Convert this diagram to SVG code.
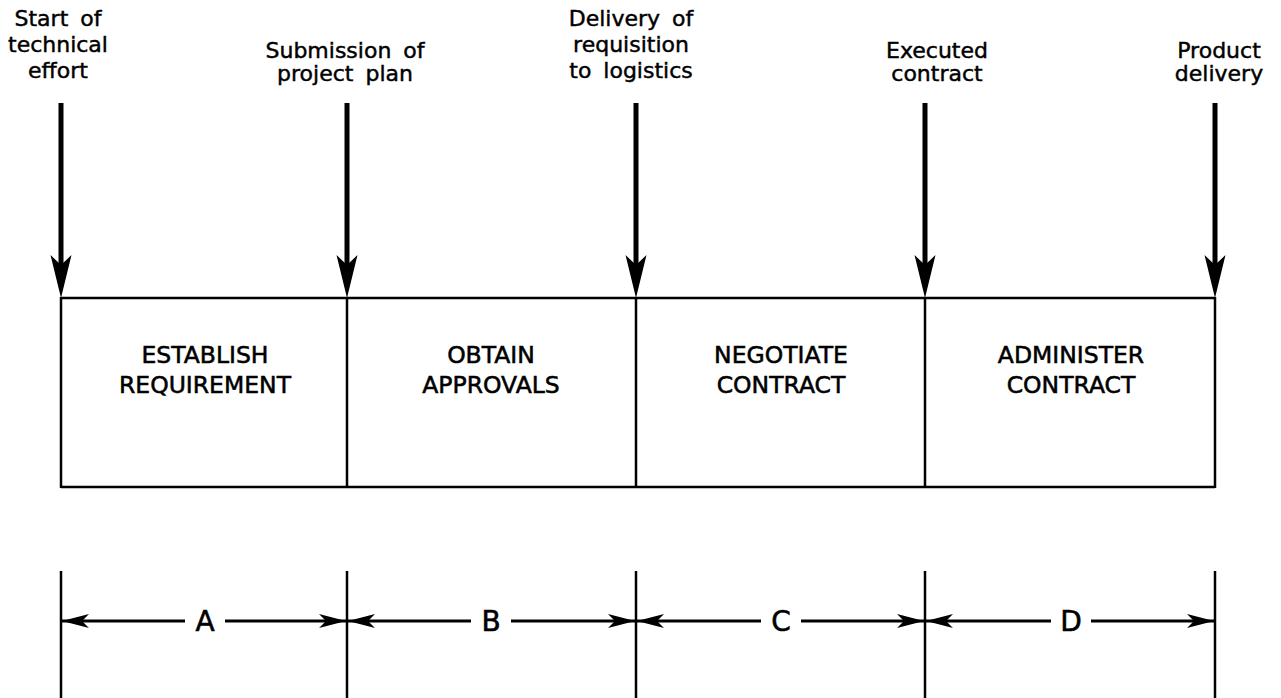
<svg xmlns="http://www.w3.org/2000/svg" width="1281" height="698" viewBox="0 0 1281 698">
<defs>
<style>
.t{font-family:"DejaVu Sans","Liberation Sans",sans-serif;font-size:22px;fill:#000;stroke:#000;stroke-width:0.45;text-anchor:middle;word-spacing:5px}
.b{font-family:"DejaVu Sans","Liberation Sans",sans-serif;font-size:23.5px;fill:#000;stroke:#000;stroke-width:0.55;text-anchor:middle}
.d{font-family:"DejaVu Sans","Liberation Sans",sans-serif;font-size:28px;fill:#000;stroke:#000;stroke-width:0.6;text-anchor:middle}
.ln{stroke:#000;stroke-width:2.5;fill:none}
.sh{stroke:#000;stroke-width:5;fill:none}
.dim{stroke:#000;stroke-width:3;fill:none}
</style>
<path id="bighead" d="M0,0 L-10.5,-43 L0,-33 L10.5,-43 Z" fill="#000"/>
<marker id="sm" markerUnits="userSpaceOnUse" markerWidth="30" markerHeight="18" refX="27" refY="9" orient="auto">
<path d="M0,2 L27,9 L0,16 L7,9 Z" fill="#000"/>
</marker>
</defs>
<rect width="1281" height="698" fill="#fff"/>

<g id="connectors">
<line class="sh" x1="61" y1="103" x2="61" y2="275"/>
<use href="#bighead" x="61" y="298"/>
<line class="sh" x1="347" y1="103" x2="347" y2="275"/>
<use href="#bighead" x="347" y="298"/>
<line class="sh" x1="636" y1="103" x2="636" y2="275"/>
<use href="#bighead" x="636" y="298"/>
<line class="sh" x1="925" y1="103" x2="925" y2="275"/>
<use href="#bighead" x="925" y="298"/>
<line class="sh" x1="1215" y1="103" x2="1215" y2="275"/>
<use href="#bighead" x="1215" y="298"/>

<line class="dim" x1="185" y1="621" x2="62" y2="621" marker-end="url(#sm)"/>
<line class="dim" x1="225" y1="621" x2="346" y2="621" marker-end="url(#sm)"/>
<line class="dim" x1="471" y1="621" x2="348" y2="621" marker-end="url(#sm)"/>
<line class="dim" x1="511" y1="621" x2="635" y2="621" marker-end="url(#sm)"/>
<line class="dim" x1="761" y1="621" x2="637" y2="621" marker-end="url(#sm)"/>
<line class="dim" x1="801" y1="621" x2="924" y2="621" marker-end="url(#sm)"/>
<line class="dim" x1="1051" y1="621" x2="926" y2="621" marker-end="url(#sm)"/>
<line class="dim" x1="1091" y1="621" x2="1214" y2="621" marker-end="url(#sm)"/>
</g>

<g id="frame">
<line class="ln" x1="61" y1="298" x2="1215" y2="298"/>
<line class="ln" x1="61" y1="487" x2="1215" y2="487"/>
<line class="ln" x1="61" y1="297" x2="61" y2="488"/>
<line class="ln" x1="347" y1="297" x2="347" y2="488"/>
<line class="ln" x1="636" y1="297" x2="636" y2="488"/>
<line class="ln" x1="925" y1="297" x2="925" y2="488"/>
<line class="ln" x1="1215" y1="297" x2="1215" y2="488"/>
<line class="ln" x1="61" y1="571" x2="61" y2="698"/>
<line class="ln" x1="347" y1="571" x2="347" y2="698"/>
<line class="ln" x1="636" y1="571" x2="636" y2="698"/>
<line class="ln" x1="925" y1="571" x2="925" y2="698"/>
<line class="ln" x1="1215" y1="571" x2="1215" y2="698"/>
</g>

<g id="m1"><text class="t" x="58" y="26">Start of</text><text class="t" x="58" y="52">technical</text><text class="t" x="58" y="78">effort</text></g>
<g id="m2"><text class="t" x="345" y="58">Submission of</text><text class="t" x="345" y="81">project plan</text></g>
<g id="m3"><text class="t" x="631" y="26">Delivery of</text><text class="t" x="631" y="52">requisition</text><text class="t" x="631" y="78">to logistics</text></g>
<g id="m4"><text class="t" x="937" y="58">Executed</text><text class="t" x="937" y="81">contract</text></g>
<g id="m5"><text class="t" x="1219" y="58">Product</text><text class="t" x="1219" y="81">delivery</text></g>

<g id="s1"><text class="b" x="205" y="363">ESTABLISH</text><text class="b" x="205" y="393">REQUIREMENT</text></g>
<g id="s2"><text class="b" x="491" y="363">OBTAIN</text><text class="b" x="491" y="393">APPROVALS</text></g>
<g id="s3"><text class="b" x="781" y="363">NEGOTIATE</text><text class="b" x="781" y="393">CONTRACT</text></g>
<g id="s4"><text class="b" x="1071" y="363">ADMINISTER</text><text class="b" x="1071" y="393">CONTRACT</text></g>

<g id="dA"><text class="d" x="205" y="631">A</text></g>
<g id="dB"><text class="d" x="491" y="631">B</text></g>
<g id="dC"><text class="d" x="781" y="631">C</text></g>
<g id="dD"><text class="d" x="1071" y="631">D</text></g>
</svg>
